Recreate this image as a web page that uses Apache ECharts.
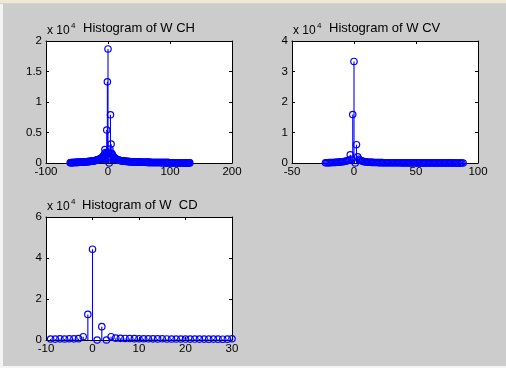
<!DOCTYPE html>
<html>
<head>
<meta charset="utf-8">
<script src="https://cdn.jsdelivr.net/npm/echarts@6/dist/echarts.min.js"></script>
<style>
  html, body { margin: 0; padding: 0; background: #cccccc; }
  #chart { width: 506px; height: 368px; }
</style>
</head>
<body>
<div id="chart"></div>
<script>
// histogram counts per integer bin
const chStart = -61;
const chCounts = [
  40, 60, 50, 70, 60, 80, 70, 90, 80, 100,
  90, 110, 100, 120, 110, 130, 120, 140, 150, 160,
  150, 170, 180, 170, 190, 200, 210, 200, 220, 230,
  240, 250, 260, 270, 290, 300, 310, 330, 350, 370,
  390, 410, 440, 470, 500, 540, 580, 620, 670, 720, 780,
  850, 950, 1050, 1200, 1400, 2200, 1700, 1500, 5400, 13300,
  18700, 1800, 0, 2300, 7900, 3100, 1600, 1400, 1200, 1000, 900,
  800, 720, 650, 600, 560, 520, 480, 450, 420, 400,
  380, 360, 340, 330, 310, 300, 290, 280, 270, 260,
  250, 240, 235, 230, 220, 215, 210, 200, 195, 190,
  185, 180, 175, 170, 165, 160, 155, 150, 148, 145,
  140, 138, 135, 130, 128, 125, 122, 120, 118, 115,
  112, 110, 108, 105, 103, 100, 98, 96, 94, 92,
  90, 88, 86, 85, 83, 82, 80, 78, 77, 75,
  74, 72, 71, 70, 68, 67, 66, 65, 64, 62,
  61, 60, 59, 58, 57, 56, 55, 54, 53, 52,
  51, 50, 49, 48, 47, 46, 45, 44, 43, 42,
  41, 40, 39, 38, 37, 36, 35, 34, 33, 32,
  31, 30, 29, 28, 27, 26, 25, 24, 23, 22, 21, 20
];

const cvStart = -23;
const cvCounts = [
  60, 80, 90, 110, 120, 140, 160, 180, 200, 230,
  260, 290, 330, 370, 420, 480, 550, 650, 800, 1000,
  2700, 1200, 15900, 33300, 0, 6000, 2000, 1200,
  900, 700, 550, 450, 380, 330, 290, 260, 230, 210,
  190, 175, 160, 150, 140, 130, 120, 115, 110, 100,
  95, 90, 85, 80, 78, 75, 72, 70, 68, 65,
  63, 60, 58, 56, 55, 53, 52, 50, 49, 48,
  47, 46, 45, 44, 43, 42, 41, 40, 40, 39,
  38, 37, 37, 36, 35, 35, 34, 33, 33, 32,
  32, 31, 31, 30, 30, 29, 29, 28, 28, 27,
  27, 26, 26, 25, 25, 24, 24, 23, 23, 22,
  22, 21, 21, 20
];

const cdStart = -9;
const cdCounts = [
  500, 450, 550, 500, 600, 550, 650,
  1600, 12500, 44300, 0, 6500, 0, 1600,
  900, 800, 750, 700, 650, 600, 620, 580, 560, 540,
  600, 520, 500, 480, 500, 460, 450, 470, 440, 430,
  420, 450, 410, 400, 420, 600
];

const titles = ['Histogram of W CH', 'Histogram of W CV', 'Histogram of W  CD'];
const xRanges = [[-100, 200, 100], [-50, 100, 50], [-10, 30, 10]];
const yRanges = [[0, 20000, 5000], [0, 40000, 10000], [0, 60000, 20000]];

const BLUE = '#0000ff';
const FONT = '"Liberation Sans", Arial, sans-serif';

const toPairs = (start, counts) => counts.map((c, i) => [start + i, c]);
const stemData = [toPairs(chStart, chCounts), toPairs(cvStart, cvCounts), toPairs(cdStart, cdCounts)];

const grids = [
  { left: 46, top: 41, width: 186, height: 122 },
  { left: 292, top: 41, width: 186, height: 122 },
  { left: 46, top: 217, width: 186, height: 123 }
];

function stemItem(params, api) {
  const x = api.value(0), v = api.value(1);
  const base = api.coord([x, 0]);
  const tip = api.coord([x, v]);
  return {
    type: 'group',
    children: [
      { type: 'line', shape: { x1: base[0], y1: base[1], x2: tip[0], y2: tip[1] }, style: { stroke: BLUE, lineWidth: 1.1 } },
      { type: 'circle', shape: { cx: tip[0], cy: tip[1], r: 3.2 }, style: { stroke: BLUE, fill: 'none', lineWidth: 1.2 } }
    ]
  };
}

const xAxes = [], yAxes = [], series = [];
grids.forEach((g, i) => {
  const [xmin, xmax, xstep] = xRanges[i];
  const [ymin, ymax, ystep] = yRanges[i];
  const line = { show: true, onZero: false, lineStyle: { color: '#000', width: 1 } };
  const tick = { show: true, inside: true, length: 3, lineStyle: { color: '#000' } };
  xAxes.push(
    { gridIndex: i, type: 'value', position: 'bottom', min: xmin, max: xmax, interval: xstep,
      axisLine: line, axisTick: tick, splitLine: { show: false },
      axisLabel: { color: '#000', fontSize: 11.5, fontFamily: FONT, margin: 3 } },
    { gridIndex: i, type: 'value', position: 'top', min: xmin, max: xmax, interval: xstep,
      axisLine: line, axisTick: tick, splitLine: { show: false }, axisLabel: { show: false } }
  );
  yAxes.push(
    { gridIndex: i, type: 'value', position: 'left', min: ymin, max: ymax, interval: ystep,
      axisLine: line, axisTick: tick, splitLine: { show: false },
      axisLabel: { color: '#000', fontSize: 11.5, fontFamily: FONT, margin: 4, formatter: v => String(v / 10000) } },
    { gridIndex: i, type: 'value', position: 'right', min: ymin, max: ymax, interval: ystep,
      axisLine: line, axisTick: tick, splitLine: { show: false }, axisLabel: { show: false } }
  );
  series.push({
    type: 'custom', xAxisIndex: 2 * i, yAxisIndex: 2 * i,
    renderItem: stemItem, data: stemData[i], clip: false,
    encode: { x: 0, y: 1 }, silent: true
  });
});

// title and exponent positions (left, middle-y) per subplot
const titlePos = [[83, 28.5], [329, 28.5], [82, 205.5]];
const expPos = [[47, 31], [293, 31], [47, 207]];

const graphic = [
  { type: 'rect', left: 0, top: 0, shape: { width: 506, height: 3 }, style: { fill: '#ece9d8' } },
  { type: 'rect', left: 0, top: 3, shape: { width: 506, height: 1 }, style: { fill: '#d6d3c4' } },
  { type: 'rect', left: 0, top: 4, shape: { width: 3, height: 364 }, style: { fill: '#f4f4f4' } },
  { type: 'rect', left: 0, top: 366, shape: { width: 506, height: 2 }, style: { fill: '#f4f4f4' } }
];
titles.forEach((t, i) => {
  graphic.push(
    { type: 'text', x: titlePos[i][0], y: titlePos[i][1],
      style: { text: t, fill: '#000', font: '13px ' + FONT, verticalAlign: 'middle' } },
    { type: 'text', x: expPos[i][0], y: expPos[i][1],
      style: { text: 'x 10', fill: '#000', font: '12px ' + FONT, verticalAlign: 'middle' } },
    { type: 'text', x: expPos[i][0] + 24, y: expPos[i][1] - 5,
      style: { text: '4', fill: '#000', font: '8px ' + FONT, verticalAlign: 'middle' } }
  );
});

const chart = echarts.init(document.getElementById('chart'), null, { renderer: 'canvas' });
chart.setOption({
  backgroundColor: '#cccccc',
  animation: false,
  grid: grids.map(g => Object.assign({ show: true, backgroundColor: '#ffffff', borderWidth: 0, containLabel: false }, g)),
  xAxis: xAxes,
  yAxis: yAxes,
  series: series,
  graphic: graphic
});
</script>
</body>
</html>
